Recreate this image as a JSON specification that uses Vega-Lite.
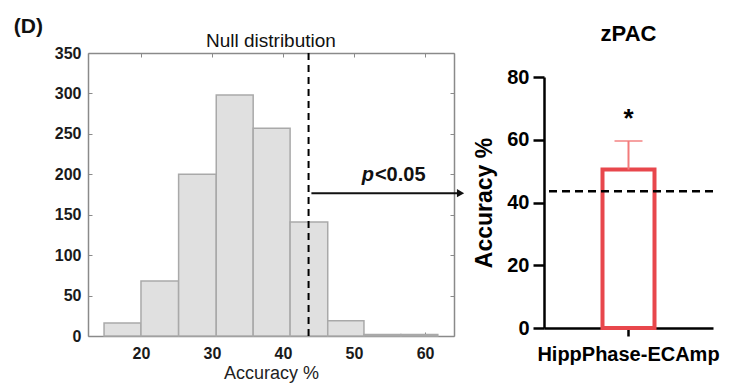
{
  "$schema": "https://vega.github.io/schema/vega-lite/v6.json",
  "padding": {"left": 13, "top": 15, "right": 5, "bottom": 5},
  "bounds": "flush",
  "spacing": 90,
  "background": "white",
  "config": {"font": "Liberation Sans", "view": {"stroke": null}},
  "datasets": {
    "hist": [
      {"bin_start": 14.8, "bin_end": 20.0, "count": 16},
      {"bin_start": 20.0, "bin_end": 25.3, "count": 68},
      {"bin_start": 25.3, "bin_end": 30.6, "count": 200},
      {"bin_start": 30.6, "bin_end": 35.8, "count": 298},
      {"bin_start": 35.8, "bin_end": 41.0, "count": 257},
      {"bin_start": 41.0, "bin_end": 46.3, "count": 141},
      {"bin_start": 46.3, "bin_end": 51.4, "count": 19},
      {"bin_start": 51.4, "bin_end": 56.6, "count": 2},
      {"bin_start": 56.6, "bin_end": 61.8, "count": 2}
    ],
    "threshold": [{"threshold": 43.6}],
    "arrow": [{"x_start": 44.0, "x_end": 65.0, "y": 176.7}],
    "note": [{"x": 52.8, "y": 191.6, "italic": "p", "rest": "<0.05"}],
    "labels": [{"x": 2.1, "y": 375, "panel": "(D)", "tx": 38.3, "ty": 358, "title": "Null distribution"}],
    "zpac": [{"pair": "HippPhase-ECAmp", "accuracy": 50.5, "upper": 59.6, "chance": 43.6, "sig": "*"}]
  },
  "hconcat": [
    {
      "width": 366,
      "height": 283,
      "resolve": {"axis": {"x": "independent", "y": "independent"}},
      "layer": [
        {
          "data": {"name": "hist"},
          "mark": {"type": "rect", "fill": "#e0e0e0", "stroke": "#a9a9a9", "strokeWidth": 1.5},
          "encoding": {
            "x": {"field": "bin_start", "type": "quantitative",
              "scale": {"domain": [12.54, 64.08], "nice": false, "zero": false},
              "axis": {"orient": "bottom", "values": [20, 30, 40, 50, 60], "title": "Accuracy %", "grid": false,
                "domainColor": "#8a8a8a", "domainWidth": 1.5, "tickColor": "#8a8a8a", "tickSize": -4, "tickWidth": 1,
                "labelFontSize": 16, "labelFontWeight": "bold", "labelColor": "#1a1a1a", "labelPadding": 13,
                "titleFontSize": 18, "titleFontWeight": "normal", "titleColor": "#222222", "titlePadding": 3}},
            "x2": {"field": "bin_end"},
            "y": {"field": "count", "type": "quantitative",
              "scale": {"domain": [0, 350], "nice": false},
              "axis": {"orient": "left", "values": [0, 50, 100, 150, 200, 250, 300, 350], "title": null, "grid": false,
                "domainColor": "#8a8a8a", "domainWidth": 1.5, "tickColor": "#8a8a8a", "tickSize": -4, "tickWidth": 1,
                "labelFontSize": 16, "labelFontWeight": "bold", "labelColor": "#1a1a1a", "labelPadding": 11}},
            "y2": {"datum": 0}
          }
        },
        {
          "data": {"name": "hist"},
          "mark": {"type": "point", "opacity": 0},
          "encoding": {
            "x": {"field": "bin_start", "type": "quantitative",
              "axis": {"orient": "top", "values": [20, 30, 40, 50, 60], "title": null, "labels": false, "grid": false,
                "domainColor": "#8a8a8a", "domainWidth": 1.5, "tickColor": "#8a8a8a", "tickSize": -4, "tickWidth": 1}},
            "y": {"field": "count", "type": "quantitative",
              "axis": {"orient": "right", "values": [0, 50, 100, 150, 200, 250, 300, 350], "title": null, "labels": false, "grid": false,
                "domainColor": "#8a8a8a", "domainWidth": 1.5, "tickColor": "#8a8a8a", "tickSize": -4, "tickWidth": 1}}
          }
        },
        {
          "data": {"name": "threshold"},
          "mark": {"type": "rule", "color": "#000000", "strokeWidth": 2, "strokeDash": [7, 5]},
          "encoding": {
            "x": {"field": "threshold", "type": "quantitative", "axis": null}
          }
        },
        {
          "data": {"name": "arrow"},
          "mark": {"type": "rule", "color": "#111111", "strokeWidth": 2},
          "encoding": {
            "x": {"field": "x_start", "type": "quantitative", "axis": null},
            "x2": {"field": "x_end"},
            "y": {"field": "y", "type": "quantitative", "axis": null}
          }
        },
        {
          "data": {"name": "arrow"},
          "mark": {"type": "point", "shape": "triangle-right", "filled": true, "size": 70, "color": "#111111", "opacity": 1},
          "encoding": {
            "x": {"field": "x_end", "type": "quantitative", "axis": null},
            "y": {"field": "y", "type": "quantitative", "axis": null}
          }
        },
        {
          "data": {"name": "note"},
          "mark": {"type": "text", "align": "right", "baseline": "alphabetic", "fontSize": 20, "fontWeight": "bold", "fontStyle": "italic", "color": "#111111"},
          "encoding": {
            "x": {"field": "x", "type": "quantitative", "axis": null},
            "y": {"field": "y", "type": "quantitative", "axis": null},
            "text": {"field": "italic"}
          }
        },
        {
          "data": {"name": "note"},
          "mark": {"type": "text", "align": "left", "baseline": "alphabetic", "fontSize": 20, "fontWeight": "bold", "color": "#111111", "dx": 1},
          "encoding": {
            "x": {"field": "x", "type": "quantitative", "axis": null},
            "y": {"field": "y", "type": "quantitative", "axis": null},
            "text": {"field": "rest"}
          }
        },
        {
          "data": {"name": "labels"},
          "mark": {"type": "text", "align": "left", "baseline": "alphabetic", "fontSize": 21, "fontWeight": "bold", "color": "#111111"},
          "encoding": {
            "x": {"field": "x", "type": "quantitative", "axis": null},
            "y": {"field": "y", "type": "quantitative", "axis": null},
            "text": {"field": "panel"}
          }
        },
        {
          "data": {"name": "labels"},
          "mark": {"type": "text", "align": "center", "baseline": "alphabetic", "fontSize": 19, "fontWeight": "normal", "color": "#111111"},
          "encoding": {
            "x": {"field": "tx", "type": "quantitative", "axis": null},
            "y": {"field": "ty", "type": "quantitative", "axis": null},
            "text": {"field": "title"}
          }
        }
      ]
    },
    {
      "width": 169,
      "height": 275,
      "data": {"name": "zpac"},
      "title": {"text": "zPAC", "fontSize": 22, "fontWeight": "bold", "color": "#000000", "baseline": "alphabetic", "offset": -10, "anchor": "middle"},
      "layer": [
        {
          "mark": {"type": "bar", "fill": "#ffffff", "stroke": "#E8474C", "strokeWidth": 4},
          "encoding": {
            "x": {"field": "pair", "type": "nominal",
              "scale": {"paddingInner": 0.5, "paddingOuter": 0.5625},
              "axis": {"title": null, "labelAngle": 0, "labelLimit": 0, "domainColor": "#000000", "domainWidth": 2.5, "tickColor": "#000000", "tickWidth": 2.5, "tickSize": 8,
                "labelFontSize": 20, "labelFontWeight": "bold", "labelColor": "#000000", "labelPadding": 8}},
            "y": {"field": "accuracy", "type": "quantitative",
              "scale": {"domain": [0, 80], "range": [275, 24], "nice": false, "zero": true},
              "axis": {"values": [0, 20, 40, 60, 80], "title": "Accuracy %", "grid": false,
                "domainColor": "#000000", "domainWidth": 2.5, "tickColor": "#000000", "tickWidth": 2.5, "tickSize": 11,
                "labelFontSize": 20, "labelFontWeight": "bold", "labelColor": "#000000", "labelPadding": 4,
                "titleFontSize": 23, "titleFontWeight": "bold", "titleColor": "#000000", "titlePadding": 10}}
          }
        },
        {
          "mark": {"type": "rule", "color": "#F27B7B", "strokeWidth": 2},
          "encoding": {
            "x": {"field": "pair", "type": "nominal"},
            "y": {"field": "accuracy", "type": "quantitative"},
            "y2": {"field": "upper"}
          }
        },
        {
          "mark": {"type": "tick", "orient": "horizontal", "color": "#F27B7B", "size": 28, "thickness": 2},
          "encoding": {
            "x": {"field": "pair", "type": "nominal"},
            "y": {"field": "upper", "type": "quantitative"}
          }
        },
        {
          "mark": {"type": "text", "align": "center", "baseline": "alphabetic", "fontSize": 26, "fontWeight": "bold", "color": "#000000", "dy": -14},
          "encoding": {
            "x": {"field": "pair", "type": "nominal"},
            "y": {"field": "upper", "type": "quantitative"},
            "text": {"field": "sig"}
          }
        },
        {
          "mark": {"type": "rule", "color": "#000000", "strokeWidth": 2.5, "strokeDash": [8, 5]},
          "encoding": {
            "y": {"field": "chance", "type": "quantitative"}
          }
        }
      ]
    }
  ]
}
